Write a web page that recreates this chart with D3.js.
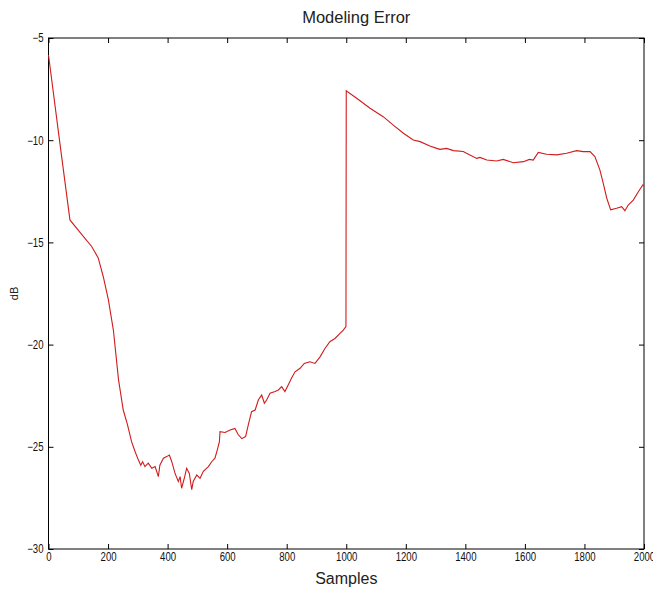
<!DOCTYPE html>
<html><head><meta charset="utf-8">
<script src="https://cdn.jsdelivr.net/npm/d3@7"></script>
<style>
body{margin:0;background:#fff;}
svg{display:block;}
</style></head>
<body>
<svg id="c" width="653" height="592"></svg>
<script>
const titleText = "Modeling Error";
const xLabel = "Samples";
const yLabel = "dB";
const xTicks = [0,200,400,600,800,1000,1200,1400,1600,1800,2000];
const yTicks = [-5,-10,-15,-20,-25,-30];
const samples = [0,36,72,110,145,167,184,201,218,235,251,265,279,291,302,310,316,324,335,347,358,369,374,386,397,406,414,425,436,442,447,455,464,473,481,486,498,509,520,537,548,559,567,574,576,593,610,626,637,649,662,671,682,694,705,716,725,733,744,761,772,783,794,805,816,828,845,859,878,895,912,929,945,962,979,990,999,1000,1035,1080,1124,1158,1192,1225,1248,1281,1304,1315,1337,1360,1393,1404,1438,1449,1472,1505,1527,1561,1595,1615,1628,1645,1673,1707,1740,1774,1796,1819,1835,1852,1863,1875,1888,1908,1925,1936,1947,1964,1981,1996,2000];
const errorDb = [-5.83,-9.9,-13.9,-14.58,-15.2,-15.76,-16.68,-17.8,-19.3,-21.7,-23.2,-23.9,-24.75,-25.24,-25.65,-25.9,-25.73,-25.97,-25.8,-26.05,-25.97,-26.46,-25.9,-25.56,-25.48,-25.4,-25.73,-26.3,-26.7,-26.46,-27.03,-26.6,-26.05,-26.3,-27.1,-26.7,-26.38,-26.54,-26.2,-25.97,-25.73,-25.56,-25.15,-24.75,-24.26,-24.3,-24.18,-24.1,-24.4,-24.6,-24.5,-23.93,-23.28,-23.2,-22.7,-22.47,-22.87,-22.7,-22.38,-22.3,-22.22,-22.06,-22.3,-21.98,-21.65,-21.33,-21.16,-20.92,-20.84,-20.92,-20.6,-20.18,-19.86,-19.7,-19.45,-19.29,-19.12,-7.58,-7.95,-8.44,-8.85,-9.26,-9.66,-9.99,-10.07,-10.28,-10.4,-10.45,-10.4,-10.51,-10.55,-10.64,-10.89,-10.84,-10.97,-11.02,-10.94,-11.1,-11.05,-10.94,-10.97,-10.6,-10.69,-10.72,-10.64,-10.51,-10.56,-10.56,-10.8,-11.46,-12.1,-12.84,-13.41,-13.33,-13.25,-13.45,-13.17,-12.93,-12.52,-12.19,-12.2];

const svg = d3.select("#c");
const L = 48.5, R = 644, T = 38, B = 549;
const x = d3.scaleLinear().domain([0,2000]).range([L,R]);
const y = d3.scaleLinear().domain([-30,-5]).range([B,T]);
const font = "'Liberation Sans',Arial,sans-serif";

// box
svg.append("rect").attr("x",L).attr("y",T).attr("width",R-L).attr("height",B-T)
  .attr("fill","none").attr("stroke","#000").attr("stroke-width",1);

const tl = 5;
svg.append("g").attr("class","ax").attr("transform",`translate(0,${B})`)
  .call(d3.axisBottom(x).tickValues(xTicks).tickSize(-tl).tickPadding(3).tickFormat(d3.format("d")));
svg.append("g").attr("transform",`translate(0,${T})`)
  .call(d3.axisTop(x).tickValues(xTicks).tickSize(-tl).tickFormat(""));
svg.append("g").attr("class","ay").attr("transform",`translate(${L},0)`)
  .call(d3.axisLeft(y).tickValues(yTicks).tickSize(-tl).tickPadding(5).tickFormat(d3.format("d")));
svg.append("g").attr("transform",`translate(${R},0)`)
  .call(d3.axisRight(y).tickValues(yTicks).tickSize(-tl).tickFormat(""));

svg.selectAll(".domain").remove();
svg.selectAll(".tick line").attr("stroke","#000");
svg.selectAll(".tick text").attr("font-family",font).attr("font-size",12).attr("fill","#111")
  .each(function(){
    const w = this.getComputedTextLength();
    d3.select(this).attr("textLength", w*0.8).attr("lengthAdjust","spacingAndGlyphs");
  });

// line
const pts = samples.map((s,i)=>[s,errorDb[i]]);
svg.append("path").datum(pts)
  .attr("d", d3.line().x(d=>x(d[0])).y(d=>y(d[1])))
  .attr("fill","none").attr("stroke","#d01c1c").attr("stroke-width",1.1);

// labels
svg.append("text").attr("x",(L+R)/2 + 10).attr("y",23).attr("text-anchor","middle")
  .attr("font-family",font).attr("font-size",16.5).attr("fill","#222").text(titleText);
svg.append("text").attr("x",(L+R)/2).attr("y",584).attr("text-anchor","middle")
  .attr("font-family",font).attr("font-size",16).attr("fill","#222").text(xLabel);
svg.append("text").attr("transform",`translate(18,${(T+B)/2}) rotate(-90)`).attr("text-anchor","middle")
  .attr("font-family",font).attr("font-size",11).attr("fill","#222").text(yLabel);
</script>
</body></html>
